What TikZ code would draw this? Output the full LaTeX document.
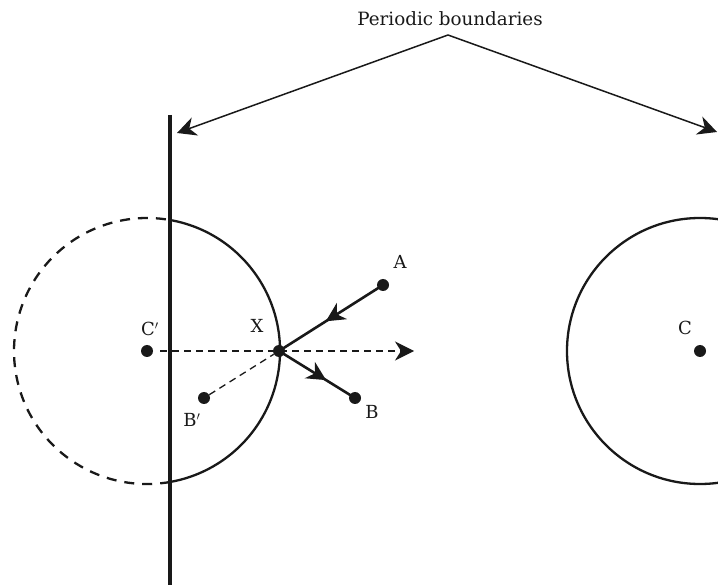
\documentclass[tikz,border=0pt]{standalone}
\usepackage{fontspec}
\setmainfont{DejaVu Serif}
\usetikzlibrary{arrows.meta,decorations.markings}
\begin{document}
\begin{tikzpicture}[x=1pt,y=-1pt,
  dot/.style={circle,fill=black!90,inner sep=0pt,minimum size=12pt},
  lbl/.style={font=\fontsize{18}{18}\selectfont,inner sep=0pt,text=black!90},
  headtip/.tip={Stealth[length=19pt,width=19pt,inset=6pt]},
  tiparrow/.style={-headtip},
  midarrow/.style={postaction={decorate},decoration={markings,
     mark=at position #1 with {\arrow[black!90]{headtip}}}},
  dline/.style={dash pattern=on 7pt off 5pt,line width=1.3pt,black!90},
  thinline/.style={line width=1.5pt,black!90},
]
\useasboundingbox (0,0) rectangle (718,585);
\clip (0,0) rectangle (718,585);

% title and pointer arrows
\node[font=\fontsize{18.3}{19}\selectfont,text=black!90,inner sep=0pt] (title) at (450,19) {Periodic boundaries};
\coordinate (apex) at (448,35);
\coordinate (lefttip) at (177,133);
\coordinate (righttip) at (717,132);
\draw[thinline,tiparrow] (apex) -- (lefttip);
\draw[thinline,tiparrow] (apex) -- (righttip);

% left periodic boundary
\coordinate (btop) at (170,115);
\coordinate (bbot) at (170,590);
\draw[line width=4pt,black!90] (btop) -- (bbot);

% image circle around C'
\node[dot] (cp) at (147,351) {};
\draw[line width=2.3pt,black!90] (147,351) ++(-80:133) arc[start angle=-80,end angle=80,radius=133];
\draw[line width=2.3pt,black!90,dash pattern=on 10pt off 8pt] (147,351) ++(80:133) arc[start angle=80,end angle=280,radius=133];

% circle around C
\node[dot] (c) at (700,351) {};
\draw[line width=2.3pt,black!90] (c.center) circle[radius=133];

% points
\node[dot] (x) at (279,351) {};
\node[dot] (a) at (383,285) {};
\node[dot] (b) at (355,398) {};
\node[dot] (bp) at (204,398) {};
\coordinate (hend) at (414,351);

% connectors
\draw[dline] ([xshift=7pt]cp.east) -- ([xshift=-10pt]hend);
\draw[line width=1.3pt,black!90,tiparrow] ([xshift=-12pt]hend) -- (hend);
\draw[dline] (bp) -- (x);
\draw[line width=2.6pt,black!90,midarrow=0.55] (a.center) -- (x.center);
\draw[line width=2.6pt,black!90,midarrow=0.62] (x.center) -- (b.center);

% labels
\node[lbl] (la) at (400,262) {A};
\node[lbl] (lb) at (372,412) {B};
\node[lbl] (lbp) at (192,420) {B$'$};
\node[lbl] (lcp) at (150,329) {C$'$};
\node[lbl] (lx) at (257,326) {X};
\node[lbl] (lc) at (685,328) {C};
\end{tikzpicture}
\end{document}
